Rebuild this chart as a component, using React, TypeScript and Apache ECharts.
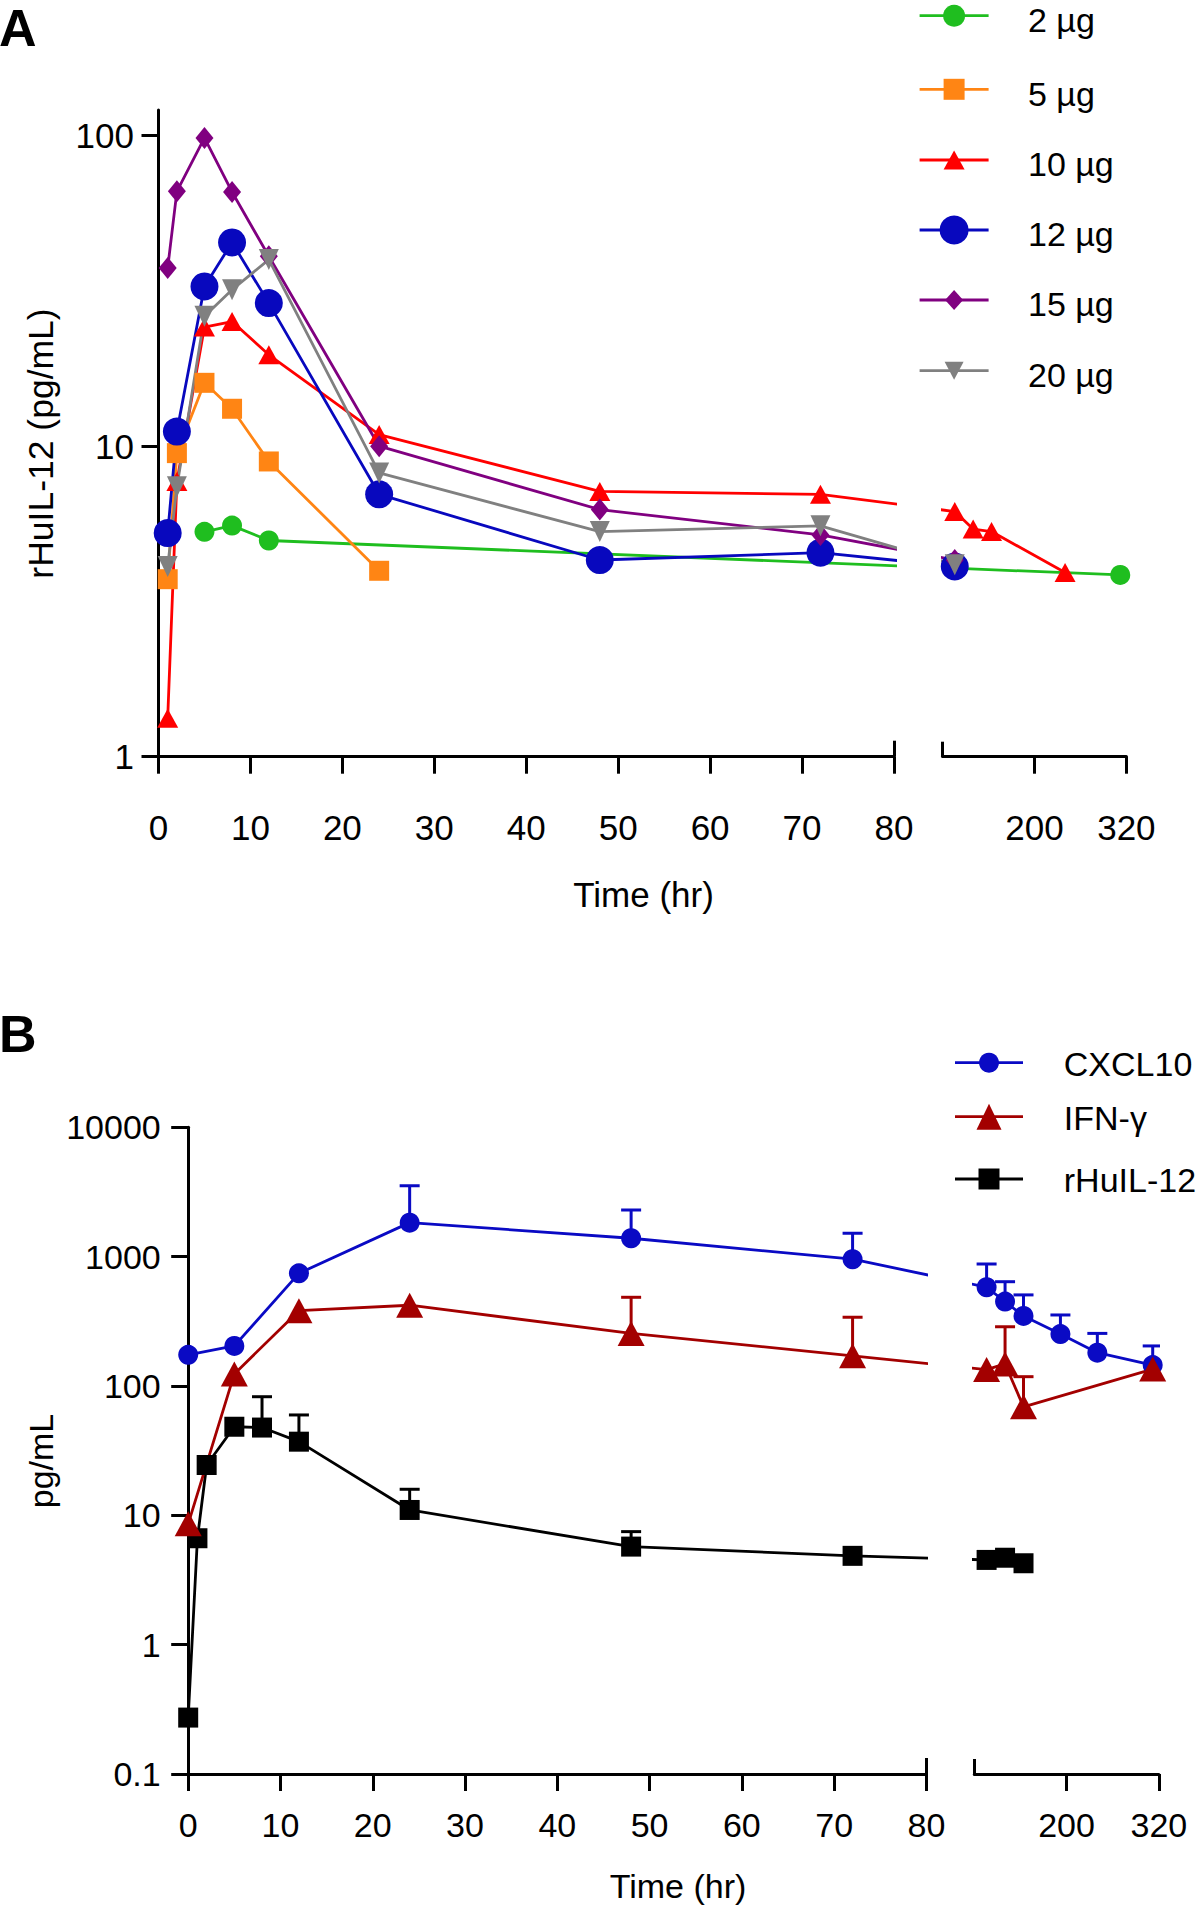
import React, { useEffect, useRef } from "react";
import * as echarts from "echarts";

const FONT = '"Liberation Sans", Arial, Helvetica, sans-serif';

// ---------------- Panel A: rHuIL-12 (pg/mL) by dose, [hour, value] ----------------
const doseLabels = ["2 µg", "5 µg", "10 µg", "12 µg", "15 µg", "20 µg"];
const dose2 = [[5, 5.3], [8, 5.55], [12, 4.97], [312, 3.85]];
const dose5 = [[1, 3.73], [2, 9.5], [5, 16.0], [8, 13.2], [12, 8.93], [24, 3.97]];
const dose10 = [[1, 1.33], [2, 7.7], [5, 24.2], [8, 25.2], [12, 19.7], [24, 10.9], [48, 7.15], [72, 7.0], [96, 6.16], [120, 5.41], [144, 5.31], [240, 3.92]];
const dose12 = [[1, 5.25], [2, 11.15], [5, 32.7], [8, 45.3], [12, 28.9], [24, 7.0], [48, 4.3], [72, 4.54], [96, 4.1]];
const dose15 = [[1, 37.5], [2, 66.2], [5, 98.4], [8, 65.9], [12, 40.9], [24, 10.0], [48, 6.25], [72, 5.18], [96, 4.3]];
const dose20 = [[1, 4.1], [2, 7.4], [5, 26.2], [8, 31.9], [12, 39.9], [24, 8.2], [48, 5.31], [72, 5.54], [96, 4.15]];
const doseData = [dose2, dose5, dose10, dose12, dose15, dose20];

// ---------------- Panel B: pg/mL, [hour, mean] and [hour, mean + SD] ----------------
const markerLabels = ["CXCL10", "IFN-γ", "rHuIL-12"];
const cxcl10 = [[0, 174], [5, 204], [12, 743], [24, 1832], [48, 1387], [72, 955], [96, 580], [120, 449], [144, 348], [192, 252], [240, 181], [312, 145]];
const cxcl10Upper = [[24, 3540], [48, 2296], [72, 1514], [96, 877], [120, 640], [144, 506], [192, 354], [240, 255], [312, 204]];
const ifng = [[0, 8.6], [5, 124], [12, 382], [24, 421], [48, 255], [72, 171], [96, 134], [120, 148], [144, 69], [312, 135]];
const ifngUpper = [[48, 485], [72, 340], [120, 287], [144, 118]];
const il12 = [[0, 0.273], [1, 6.65], [2, 24.5], [5, 48.4], [8, 47.7], [12, 37.1], [24, 11.0], [48, 5.73], [72, 4.86], [96, 4.52], [120, 4.7], [144, 4.26]];
const il12Upper = [[8, 82.6], [12, 59.7], [24, 15.9], [48, 7.48]];
const markerData = [cxcl10, ifng, il12];
const markerUpper = [cxcl10Upper, ifngUpper, il12Upper];

// ---------------- Axis ticks ----------------
const xTicksSeg1 = [0, 10, 20, 30, 40, 50, 60, 70, 80];
const xTicksSeg2 = [200, 320];
const SEG1_END = 80;
const SEG2_END = 320;
const yTicksA = [1, 10, 100];
const yRangeA = [1, 121];
const yTicksB = [0.1, 1, 10, 100, 1000, 10000];
const yRangeB = [0.1, 10000];

// ---------------- Styles ----------------
const doseStyle = [
  { color: "#1FBE1F", symbol: "circle", size: 20, rotate: 0, legendShape: "circle", legendSize: [22, 22] },
  { color: "#FF8514", symbol: "rect", size: 20, rotate: 0, legendShape: "rect", legendSize: [21, 21] },
  { color: "#FF0000", symbol: "triangle", size: [21, 19], rotate: 0, legendShape: "triangle", legendSize: [21, 19] },
  { color: "#0808BE", symbol: "circle", size: 28, rotate: 0, legendShape: "circle", legendSize: [29, 29] },
  { color: "#800080", symbol: "diamond", size: [18, 22], rotate: 0, legendShape: "diamond", legendSize: [18, 20] },
  { color: "#808080", symbol: "triangle", size: [20, 21], rotate: 180, legendShape: "triangleDown", legendSize: [19, 18] },
];
const markerStyle = [
  { color: "#0A0AC4", symbol: "circle", size: 20, legendShape: "circle", legendSize: [20, 20] },
  { color: "#A30000", symbol: "triangle", size: [27, 25], legendShape: "triangle", legendSize: [25, 26] },
  { color: "#000000", symbol: "rect", size: 20, legendShape: "rect", legendSize: [21, 21] },
];

// ---------------- Layout (px) ----------------
const A = { left: 158.5, seg1Right: 894, seg2Left: 942.5, top: 110, bottom: 756.7 };
const B = { left: 188.2, seg1Right: 926.4, seg2Left: 974.3, top: 1127.3, bottom: 1774 };
const SEG2_UNITS = 20; // drawn width of 2nd segment, in units of the 1st segment
const legendA = { x: 919.6, w: 69, textX: 1028, textDy: 4.3, centers: [15.7, 89.3, 160, 230, 300, 370.7] };
const legendB = { x: 955, w: 68, textX: 1063.8, textDy: 1, centers: [1062.7, 1116.7, 1179] };

function broken(p: any) {
  const ppu = (p.seg1Right - p.left) / SEG1_END;
  const s2min = SEG1_END + (p.seg2Left - p.seg1Right) / ppu;
  const comp = (SEG2_END - SEG1_END) / SEG2_UNITS;
  const toX = (t: number) => (t <= SEG1_END ? t : s2min + (t - SEG1_END) / comp);
  const fromX = (x: number) => (x <= SEG1_END ? x : SEG1_END + (x - s2min) * comp);
  return { ppu, s2min, s2max: s2min + SEG2_UNITS, seg2Width: SEG2_UNITS * ppu, toX, fromX };
}
const bA = broken(A);
const bB = broken(B);

const AXIS_W = 3;
const LINE_W = 2.8;

function yLabel(v: number) {
  return v >= 1 ? String(Math.round(v)) : String(Number(v.toPrecision(2)));
}

function xAxes(grid1: number, grid2: number, br: any, fontSize: number, margin: number) {
  const common = {
    type: "value",
    position: "bottom",
    splitLine: { show: false },
    axisLine: { show: true, onZero: false, lineStyle: { color: "#000", width: AXIS_W } },
    axisTick: { show: true, length: 17, lineStyle: { color: "#000", width: AXIS_W } },
    axisLabel: { color: "#000", fontSize, fontFamily: FONT, margin, verticalAlign: "middle" },
  };
  const cap = {
    type: "value",
    position: "bottom",
    splitLine: { show: false },
    axisLine: { show: false },
    axisLabel: { show: false },
  };
  return [
    {
      ...common, gridIndex: grid1, min: 0, max: SEG1_END,
      axisTick: { ...common.axisTick, customValues: xTicksSeg1 },
      axisLabel: { ...common.axisLabel, customValues: xTicksSeg1, formatter: (v: number) => String(Math.round(v)) },
    },
    {
      ...common, gridIndex: grid2, min: br.s2min, max: br.s2max,
      axisTick: { ...common.axisTick, customValues: [br.toX(SEG1_END), ...xTicksSeg2.map(br.toX)] },
      axisLabel: { ...common.axisLabel, customValues: xTicksSeg2.map(br.toX), formatter: (v: number) => String(Math.round(br.fromX(v))) },
    },
    { ...cap, gridIndex: grid1, min: 0, max: SEG1_END, axisTick: { show: true, inside: true, length: 16, customValues: [SEG1_END], lineStyle: { color: "#000", width: AXIS_W } } },
    { ...cap, gridIndex: grid2, min: br.s2min, max: br.s2max, axisTick: { show: true, inside: true, length: 15, customValues: [br.s2min], lineStyle: { color: "#000", width: AXIS_W } } },
  ];
}

function yAxes(grid1: number, grid2: number, range: number[], ticks: number[], fontSize: number, margin: number) {
  const base = { type: "log", logBase: 10, min: range[0], max: range[1], splitLine: { show: false } };
  return [
    {
      ...base, gridIndex: grid1,
      axisLine: { show: true, lineStyle: { color: "#000", width: AXIS_W } },
      axisTick: { show: true, length: 17, customValues: ticks, lineStyle: { color: "#000", width: AXIS_W } },
      axisLabel: { color: "#000", fontSize, fontFamily: FONT, margin, customValues: ticks, formatter: yLabel },
    },
    { ...base, gridIndex: grid2, show: false },
  ];
}

function lineSeries(name: string, data: number[][], st: any, br: any, xi: number, yi: number) {
  return {
    type: "line",
    name,
    xAxisIndex: xi,
    yAxisIndex: yi,
    data: data.map(([t, v]) => [br.toX(t), v]),
    symbol: st.symbol,
    symbolSize: st.size,
    symbolRotate: st.rotate || 0,
    showSymbol: true,
    showAllSymbol: true,
    clip: true,
    itemStyle: { color: st.color },
    lineStyle: { color: st.color, width: LINE_W },
    emphasis: { disabled: true },
    silent: true,
  };
}

function errSeries(name: string, data: number[][], upper: number[][], color: string, br: any, xi: number, yi: number, seg: number) {
  const pts = upper
    .filter(([t]) => (seg === 1 ? t <= SEG1_END : t >= SEG1_END))
    .map(([t, u]) => {
      const m = data.find((d) => d[0] === t);
      return [br.toX(t), m ? m[1] : u, u];
    });
  return {
    type: "custom",
    name: name + " SD",
    xAxisIndex: xi,
    yAxisIndex: yi,
    clip: true,
    silent: true,
    z: 1,
    data: pts,
    encode: { x: 0, y: [1, 2] },
    renderItem: (_p: any, api: any) => {
      const x = api.value(0);
      const p0 = api.coord([x, api.value(1)]);
      const p1 = api.coord([x, api.value(2)]);
      const st = { stroke: color, lineWidth: 3 };
      return {
        type: "group",
        children: [
          { type: "line", shape: { x1: p0[0], y1: p0[1], x2: p1[0], y2: p1[1] }, style: st },
          { type: "line", shape: { x1: p1[0] - 10, y1: p1[1], x2: p1[0] + 10, y2: p1[1] }, style: st },
        ],
      };
    },
  };
}

function legendSymbol(kind: string, size: number[], cx: number, cy: number, color: string) {
  const [w, h] = size;
  const style = { fill: color };
  if (kind === "circle") return { type: "circle", shape: { cx, cy, r: w / 2 }, style };
  if (kind === "rect") return { type: "rect", shape: { x: cx - w / 2, y: cy - h / 2, width: w, height: h }, style };
  let pts: number[][];
  if (kind === "triangle") pts = [[cx, cy - h / 2], [cx + w / 2, cy + h / 2], [cx - w / 2, cy + h / 2]];
  else if (kind === "triangleDown") pts = [[cx - w / 2, cy - h / 2], [cx + w / 2, cy - h / 2], [cx, cy + h / 2]];
  else pts = [[cx, cy - h / 2], [cx + w / 2, cy], [cx, cy + h / 2], [cx - w / 2, cy]];
  return { type: "polygon", shape: { points: pts }, style };
}

function legendEntry(label: string, st: any, lg: any, i: number) {
  const cy = lg.centers[i];
  const cx = lg.x + lg.w / 2;
  return {
    type: "group",
    silent: true,
    children: [
      { type: "line", shape: { x1: lg.x, y1: cy, x2: lg.x + lg.w, y2: cy }, style: { stroke: st.color, lineWidth: LINE_W } },
      legendSymbol(st.legendShape, st.legendSize, cx, cy, st.color),
      {
        type: "text",
        x: lg.textX,
        y: cy + lg.textDy,
        style: { text: label, fill: "#000", fontSize: 34, fontFamily: FONT, textAlign: "left", textVerticalAlign: "middle" },
      },
    ],
  };
}

function buildOption() {
  const series: any[] = [];
  doseData.forEach((d, i) => {
    series.push(lineSeries(doseLabels[i], d, doseStyle[i], bA, 0, 0));
    series.push(lineSeries(doseLabels[i], d, doseStyle[i], bA, 1, 1));
  });
  const drawOrder = [2, 0, 1];
  drawOrder.forEach((i) => {
    const st = markerStyle[i];
    series.push(errSeries(markerLabels[i], markerData[i], markerUpper[i], st.color, bB, 4, 2, 1));
    series.push(errSeries(markerLabels[i], markerData[i], markerUpper[i], st.color, bB, 5, 3, 2));
    series.push(lineSeries(markerLabels[i], markerData[i], st, bB, 4, 2));
    series.push(lineSeries(markerLabels[i], markerData[i], st, bB, 5, 3));
  });

  const text = (t: string, x: number, y: number, size: number, opts: any = {}) => ({
    type: "text",
    x,
    y,
    rotation: opts.rotation || 0,
    style: {
      text: t,
      fill: "#000",
      fontSize: size,
      fontFamily: FONT,
      fontWeight: opts.bold ? "bold" : "normal",
      textAlign: opts.align || "center",
      textVerticalAlign: "middle",
    },
  });

  const legendGraphics = [
    ...doseLabels.map((n, i) => legendEntry(n, doseStyle[i], legendA, i)),
    ...markerLabels.map((n, i) => legendEntry(n, markerStyle[i], legendB, i)),
  ];

  return {
    animation: false,
    backgroundColor: "#fff",
    textStyle: { fontFamily: FONT },
    grid: [
      { left: A.left, top: A.top, width: A.seg1Right - A.left, height: A.bottom - A.top },
      { left: A.seg2Left, top: A.top, width: bA.seg2Width, height: A.bottom - A.top },
      { left: B.left, top: B.top, width: B.seg1Right - B.left, height: B.bottom - B.top },
      { left: B.seg2Left, top: B.top, width: bB.seg2Width, height: B.bottom - B.top },
    ],
    xAxis: [...xAxes(0, 1, bA, 35, 70.5), ...xAxes(2, 3, bB, 34, 50.5)],
    yAxis: [...yAxes(0, 1, yRangeA, yTicksA, 35, 24.5), ...yAxes(2, 3, yRangeB, yTicksB, 34, 27.5)],
    series,
    graphic: [
      text("A", -1, 27.5, 52, { bold: true, align: "left" }),
      text("B", -1, 1034, 52, { bold: true, align: "left" }),
      text("rHuIL-12 (pg/mL)", 41, 443.5, 35.5, { rotation: Math.PI / 2 }),
      text("Time (hr)", 643.5, 894, 35),
      text("pg/mL", 41, 1461, 34, { rotation: Math.PI / 2 }),
      text("Time (hr)", 678, 1886, 34),
      ...legendGraphics,
    ],
  };
}

export default function App() {
  const ref = useRef<HTMLDivElement>(null);
  useEffect(() => {
    document.body.style.margin = "0";
    if (!ref.current) return;
    const chart = echarts.init(ref.current, undefined, { renderer: "svg" });
    chart.setOption(buildOption() as any);
    return () => chart.dispose();
  }, []);
  return <div ref={ref} style={{ width: 1200, height: 1905, background: "#fff" }} />;
}
